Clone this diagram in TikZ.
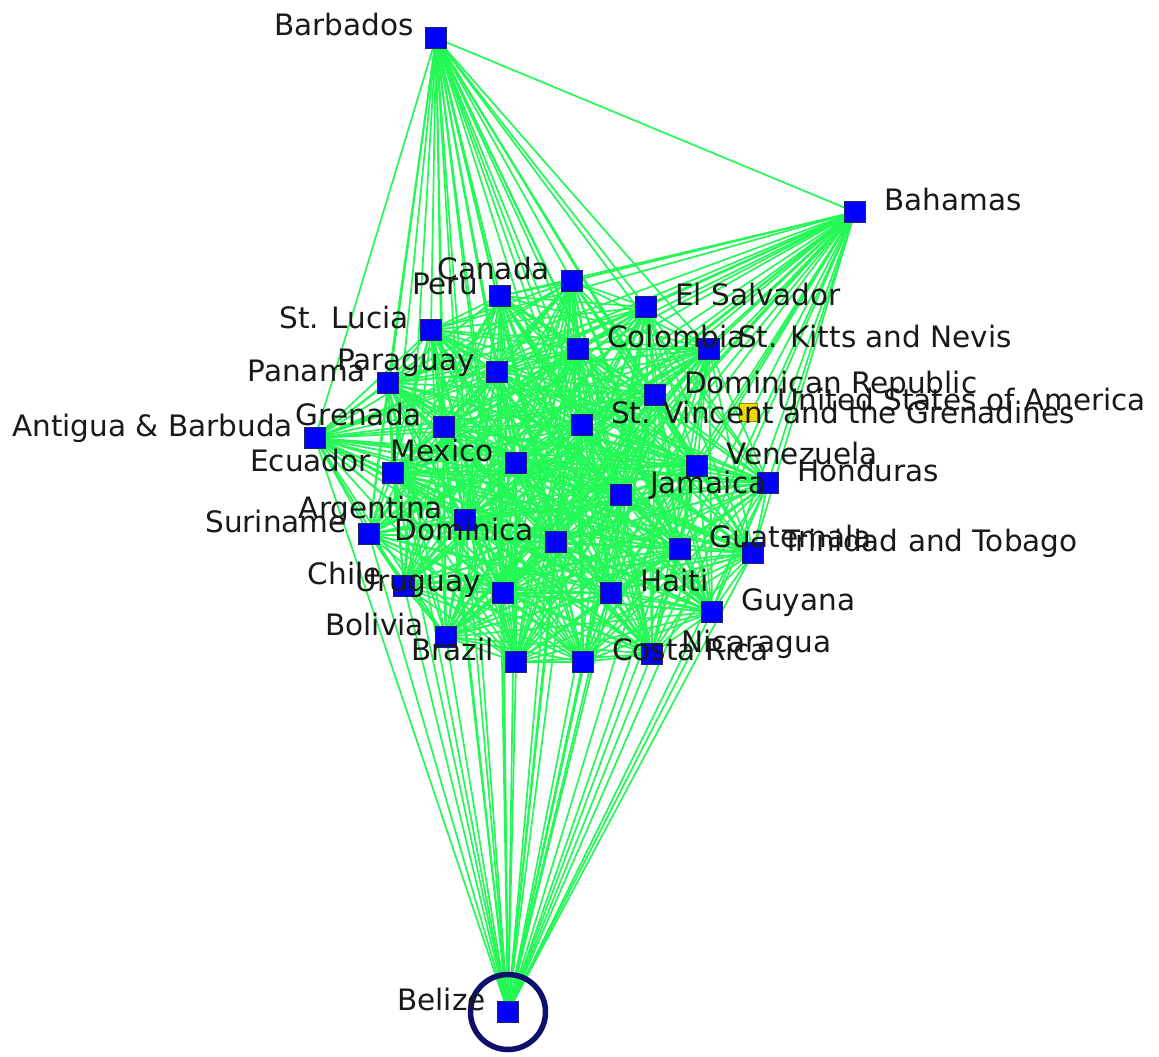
\documentclass[tikz,border=0pt]{standalone}
\usepackage{fontspec}
\setmainfont{DejaVu Sans}
\definecolor{linkgreen}{RGB}{36,248,86}
\definecolor{nodeblue}{RGB}{0,0,255}
\definecolor{nodeedge}{RGB}{35,35,105}
\definecolor{isoyellow}{RGB}{238,218,0}
\definecolor{isoedge}{RGB}{150,140,0}
\definecolor{ringnavy}{RGB}{15,15,110}
\definecolor{labelink}{RGB}{25,25,25}
\pgfdeclarelayer{edges}
\pgfdeclarelayer{labels}
\pgfsetlayers{edges,main,labels}
\begin{document}
\begin{tikzpicture}[x=1pt,y=-1pt,
  country/.style={rectangle, draw=nodeedge, line width=1pt, fill=nodeblue,
    minimum size=21pt, inner sep=0pt},
  isolate/.style={country, draw=isoedge, fill=isoyellow, minimum size=18pt},
  link/.style={draw=linkgreen, line width=1.7pt},
  lbl/.style={text=labelink, inner sep=0pt, font=\fontsize{29.5}{35}\selectfont},
  lblL/.style={lbl, anchor=base east, xshift=-22pt, yshift=2pt},
  lblR/.style={lbl, anchor=base west, xshift=29pt, yshift=2pt},
  ring/.style={circle, draw=ringnavy, line width=5.5pt, minimum size=75pt, inner sep=0pt}
]
\useasboundingbox (0,0) rectangle (1159,1057);

% countries
\node[country] (barb) at (436,38) {};
\node[country] (baha) at (855,212) {};
\node[country] (cana) at (572,281) {};
\node[country] (peru) at (500,296) {};
\node[country] (elsa) at (646,307) {};
\node[country] (stlu) at (431,330) {};
\node[country] (colo) at (578,349) {};
\node[country] (stki) at (709,349) {};
\node[country] (para) at (497,372) {};
\node[country] (pana) at (388,383) {};
\node[country] (domr) at (655,395) {};
\node[isolate] (usa)  at (748,412) {};
\node[country] (anti) at (315,438) {};
\node[country] (gren) at (444,427) {};
\node[country] (stvi) at (582,425) {};
\node[country] (mexi) at (516,463) {};
\node[country] (ecua) at (393,473) {};
\node[country] (vene) at (697,466) {};
\node[country] (hond) at (768,483) {};
\node[country] (jama) at (621,495) {};
\node[country] (arge) at (465,520) {};
\node[country] (suri) at (369,534) {};
\node[country] (domi) at (556,542) {};
\node[country] (guat) at (680,549) {};
\node[country] (trin) at (753,553) {};
\node[country] (chil) at (404,586) {};
\node[country] (urug) at (503,593) {};
\node[country] (hait) at (611,593) {};
\node[country] (guya) at (712,612) {};
\node[country] (boli) at (446,637) {};
\node[country] (braz) at (516,662) {};
\node[country] (cost) at (583,662) {};
\node[country] (nica) at (652,654) {};
\node[country] (beli) at (508,1012) {};

% selection ring
\node[ring] (sel) at (beli) {};

% every pair of linked countries
\def\members{barb,baha,cana,peru,elsa,stlu,colo,stki,para,pana,domr,anti,gren,stvi,mexi,ecua,vene,hond,jama,arge,suri,domi,guat,trin,chil,urug,hait,guya,boli,braz,cost,nica,beli}
\begin{pgfonlayer}{edges}
\foreach \a [count=\i] in \members {
  \foreach \b [count=\j] in \members {
    \ifnum\j>\i \draw[link] (\a.center) -- (\b.center); \fi
  }
}
\end{pgfonlayer}

% names
\begin{pgfonlayer}{labels}
\node[lblL] (t-barb) at (barb) {Barbados};
\node[lblR] (t-baha) at (baha) {Bahamas};
\node[lblL] (t-cana) at (cana) {Canada};
\node[lblL] (t-peru) at (peru) {Peru};
\node[lblR] (t-elsa) at (elsa) {El Salvador};
\node[lblL] (t-stlu) at (stlu) {St. Lucia};
\node[lblR] (t-colo) at (colo) {Colombia};
\node[lblR] (t-stki) at (stki) {St. Kitts and Nevis};
\node[lblL] (t-para) at (para) {Paraguay};
\node[lblL] (t-pana) at (pana) {Panama};
\node[lblR] (t-domr) at (domr) {Dominican Republic};
\node[lblR] (t-usa)  at (usa)  {United States of America};
\node[lblL] (t-anti) at (anti) {Antigua \& Barbuda};
\node[lblL] (t-gren) at (gren) {Grenada};
\node[lblR] (t-stvi) at (stvi) {St. Vincent and the Grenadines};
\node[lblL] (t-mexi) at (mexi) {Mexico};
\node[lblL] (t-ecua) at (ecua) {Ecuador};
\node[lblR] (t-vene) at (vene) {Venezuela};
\node[lblR] (t-hond) at (hond) {Honduras};
\node[lblR] (t-jama) at (jama) {Jamaica};
\node[lblL] (t-arge) at (arge) {Argentina};
\node[lblL] (t-suri) at (suri) {Suriname};
\node[lblL] (t-domi) at (domi) {Dominica};
\node[lblR] (t-guat) at (guat) {Guatemala};
\node[lblR] (t-trin) at (trin) {Trinidad and Tobago};
\node[lblL] (t-chil) at (chil) {Chile};
\node[lblL] (t-urug) at (urug) {Uruguay};
\node[lblR] (t-hait) at (hait) {Haiti};
\node[lblR] (t-guya) at (guya) {Guyana};
\node[lblL] (t-boli) at (boli) {Bolivia};
\node[lblL] (t-braz) at (braz) {Brazil};
\node[lblR] (t-cost) at (cost) {Costa Rica};
\node[lblR] (t-nica) at (nica) {Nicaragua};
\node[lblL] (t-beli) at (beli) {Belize};
\end{pgfonlayer}
\end{tikzpicture}
\end{document}
